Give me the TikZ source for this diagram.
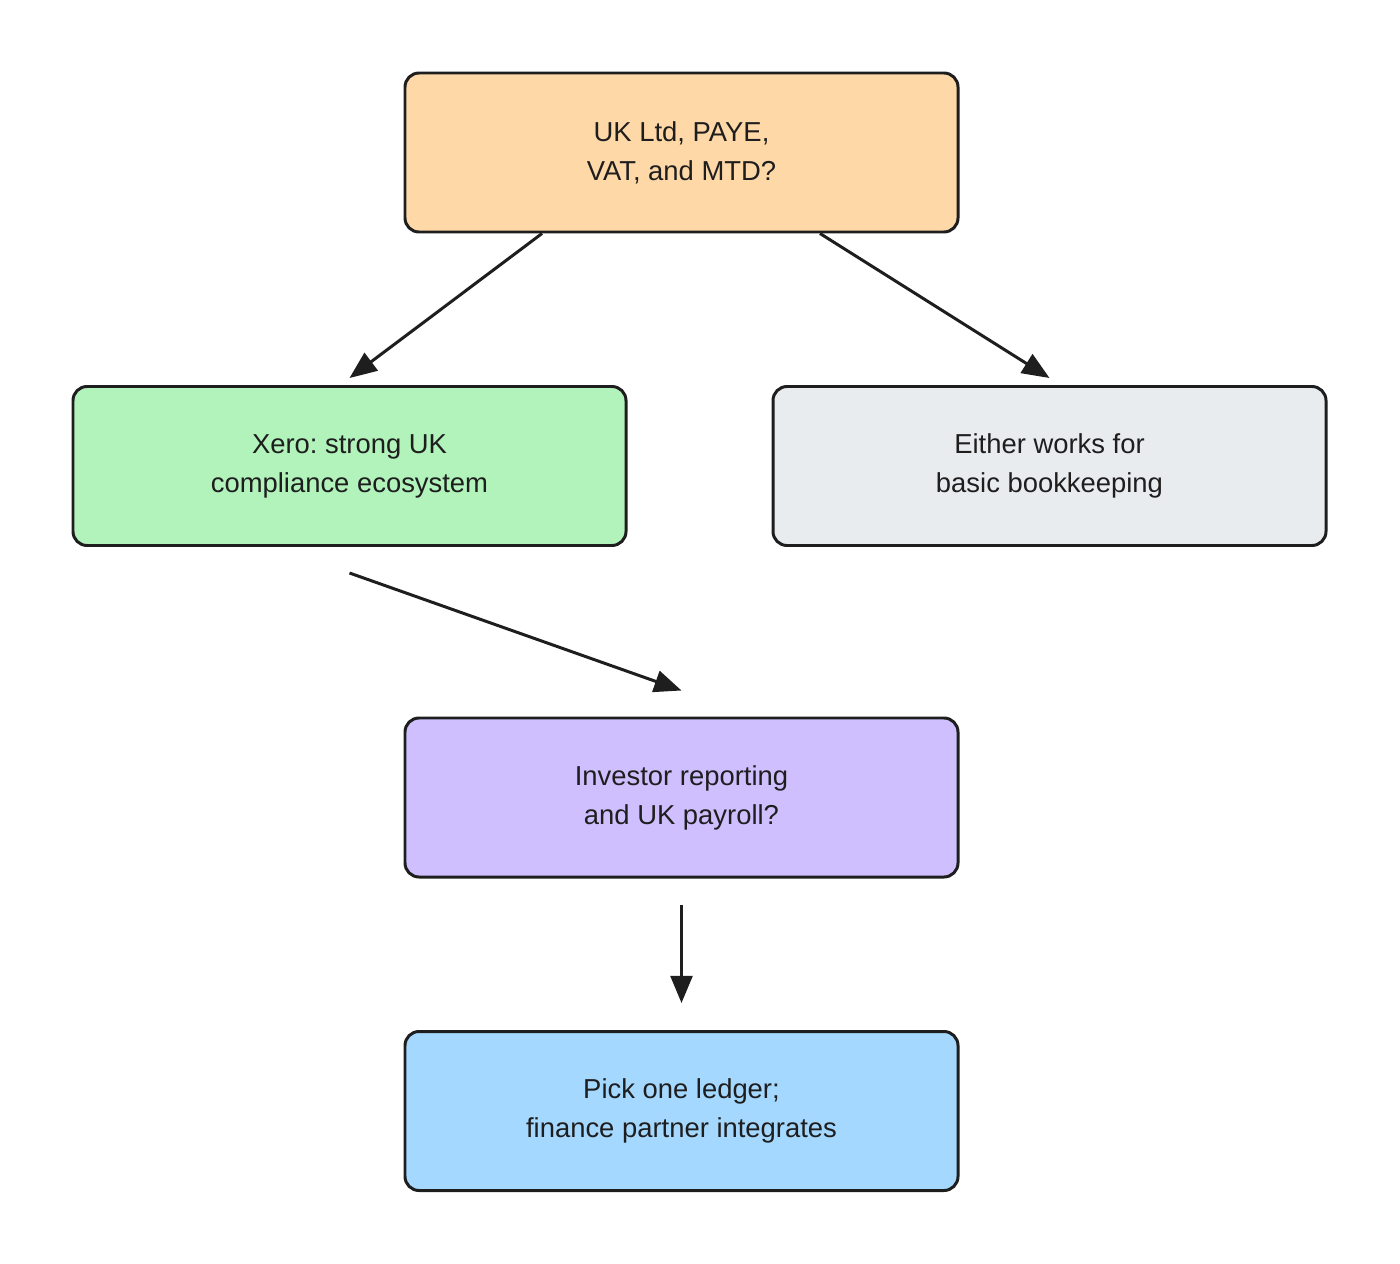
\documentclass[tikz,border=0pt]{standalone}
\usepackage{fontspec}
\setmainfont{Liberation Sans}
\frenchspacing
\usetikzlibrary{arrows.meta,calc}
\definecolor{strokec}{HTML}{1E1E1E}
\definecolor{orangef}{HTML}{FFD8A8}
\definecolor{greenf}{HTML}{B2F2BB}
\definecolor{greyf}{HTML}{E9ECEF}
\definecolor{purplef}{HTML}{D0BFFF}
\definecolor{bluef}{HTML}{A5D8FF}
\tikzset{
  box/.style={draw=strokec, line width=1.7pt, rounded corners=8pt,
    minimum width=553*0.02cm, minimum height=159*0.02cm, align=center,
    text=strokec, font=\fontsize{15.6}{22.1}\selectfont, inner sep=0pt},
  conn/.style={draw=strokec, line width=1.7pt,
    -{Triangle[length=15.5pt,width=12.5pt]}}
}
\begin{document}
\begin{tikzpicture}[x=0.02cm,y=-0.02cm]
\useasboundingbox (0,0) rectangle (1400,1264);
\node[box, fill=orangef] (top) at (681.5,152.5) {UK Ltd, PAYE,\\VAT, and MTD?};
\node[box, fill=greenf] (xero) at (349.5,466) {Xero: strong UK\\compliance ecosystem};
\node[box, fill=greyf] (either) at (1049.5,466) {Either works for\\basic bookkeeping};
\node[box, fill=purplef] (inv) at (681.5,797.5) {Investor reporting\\and UK payroll?};
\node[box, fill=bluef] (pick) at (681.5,1111) {Pick one ledger;\\finance partner integrates};
\draw[conn] ($(top.south)+(-139.5,0)$) -- ($(xero.north)+(0,-7)$);
\draw[conn] ($(top.south)+(138.5,0)$) -- ($(either.north)+(0,-7)$);
\draw[conn] ($(xero.south)+(0,26)$) -- ($(inv.north)+(0,-26)$);
\draw[conn] ($(inv.south)+(0,26)$) -- ($(pick.north)+(0,-27)$);
\end{tikzpicture}
\end{document}
